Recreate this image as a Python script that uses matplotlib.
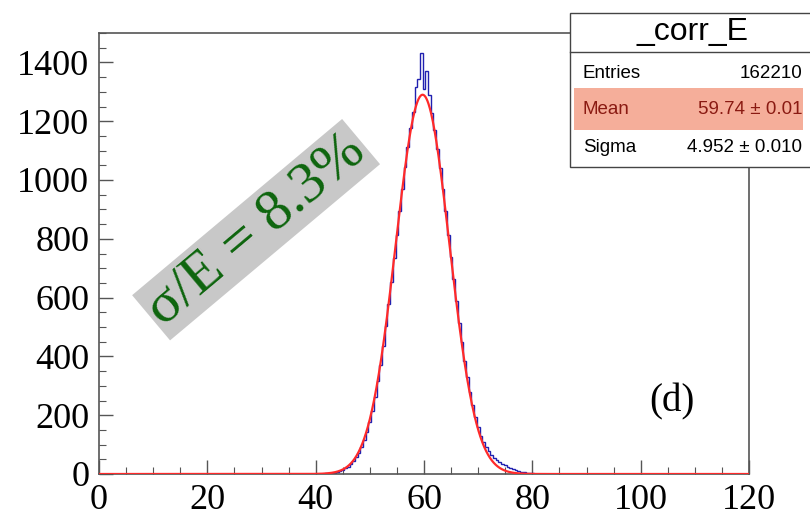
import numpy as np
import matplotlib
matplotlib.use("Agg")
import matplotlib.pyplot as plt
from matplotlib.patches import Rectangle

# blue histogram: bin centres (0.5 wide) and counts
bin_centers = np.arange(40.0, 82.01, 0.5)
counts = [
    0, 1, 1, 1, 2, 3, 4, 5, 7, 10,
    14, 19, 25, 34, 44, 57, 72, 92, 115, 142,
    176, 214, 262, 318, 372, 436, 505, 578, 652, 735,
    812, 895, 968, 1045, 1112, 1178, 1232, 1318, 1345, 1432,
    1310, 1372, 1290, 1228, 1170, 1105, 1040, 968, 895, 812,
    738, 662, 588, 515, 448, 384, 330, 280, 234, 195,
    160, 130, 108, 92, 78, 66, 56, 46, 40, 34,
    29, 24, 20, 16, 13, 10, 8, 6, 5, 3,
    2, 1, 1, 0, 0,
]

# gaussian fit (red)
FIT_CONST = 1290
FIT_MEAN = 59.74
FIT_SIGMA = 4.952

# stat box
stat_title = "_corr_E"
stat_rows = [("Entries", "162210"), ("Mean", "59.74 \u00b1 0.01"), ("Sigma", "4.952 \u00b1 0.010")]

x_ticks = [0, 20, 40, 60, 80, 100, 120]
y_ticks = [0, 200, 400, 600, 800, 1000, 1200, 1400]

SERIF = ["Liberation Serif", "DejaVu Serif"]
SANS = ["Liberation Sans", "DejaVu Sans"]

W, H = 810, 513
fig = plt.figure(figsize=(W / 100, H / 100), dpi=100)
ax = fig.add_axes([99 / W, 1 - 474 / H, 650 / W, 441 / H])

edges = np.append(bin_centers - 0.25, bin_centers[-1] + 0.25)
ax.stairs(counts, edges, color="#2020b0", linewidth=1.0, zorder=2)

xf = np.linspace(0, 120, 2400)
yf = FIT_CONST * np.exp(-0.5 * ((xf - FIT_MEAN) / FIT_SIGMA) ** 2)
ax.plot(xf, yf, color="#ff2a2a", linewidth=1.6, zorder=3)

ax.set_xlim(0, 120)
ax.set_ylim(0, 1500)
ax.set_xticks(x_ticks)
ax.set_yticks(y_ticks)
ax.set_xticks(np.arange(0, 121, 5), minor=True)
ax.set_yticks(np.arange(0, 1501, 50), minor=True)
ax.tick_params(which="both", direction="in", colors="#555555", labelcolor="black",
               top=False, right=False)
ax.tick_params(which="major", length=10, width=1.0)
ax.tick_params(which="minor", length=5, width=0.8)
ax.tick_params(axis="x", pad=7)
ax.tick_params(axis="y", pad=7)
for lab in ax.get_xticklabels() + ax.get_yticklabels():
    lab.set_family(SERIF)
    lab.set_fontsize(26)
for s in ax.spines.values():
    s.set_color("#555555")
    s.set_linewidth(1.2)

# rotated resolution label
ax.text(29.0, 831, "\u03c3/E = 8.3%", rotation=40, rotation_mode="anchor",
        ha="center", va="center", family=SERIF, fontsize=42, color="#0d650d",
        bbox=dict(boxstyle="square,pad=0.06", facecolor="#c8c8c8", edgecolor="none"),
        zorder=4)

fig.text(672 / W, 1 - 402 / H, "(d)", ha="center", va="center",
         family=SERIF, fontsize=28, color="black")

# stat box (runs past the right edge)
def fx(px):
    return px / W

def fy(py):
    return 1 - py / H

fig.patches.append(Rectangle((fx(570), fy(167)), fx(260), 154 / H, transform=fig.transFigure,
                             facecolor="white", edgecolor="#444444", linewidth=1.0, zorder=5))
fig.add_artist(plt.Line2D([fx(570), fx(815)], [fy(52), fy(52)], transform=fig.transFigure,
                          color="#444444", linewidth=1.0, zorder=6))
fig.patches.append(Rectangle((fx(574), fy(130)), fx(229), 42 / H, transform=fig.transFigure,
                             facecolor="#f5ae9a", edgecolor="none", zorder=6))
fig.text(fx(692), fy(32), stat_title, ha="center", va="center", family=SANS,
         fontsize=23, zorder=7)
row_y = [73, 109, 148]
for (name, val), py in zip(stat_rows, row_y):
    c = "#8a1a12" if name == "Mean" else "black"
    fig.text(fx(583), fy(py), name, ha="left", va="center", family=SANS,
             fontsize=13.5, color=c, zorder=7)
    fig.text(fx(802), fy(py), val, ha="right", va="center", family=SANS,
             fontsize=13.5, color=c, zorder=7)

fig.savefig("out.png", dpi=100)
